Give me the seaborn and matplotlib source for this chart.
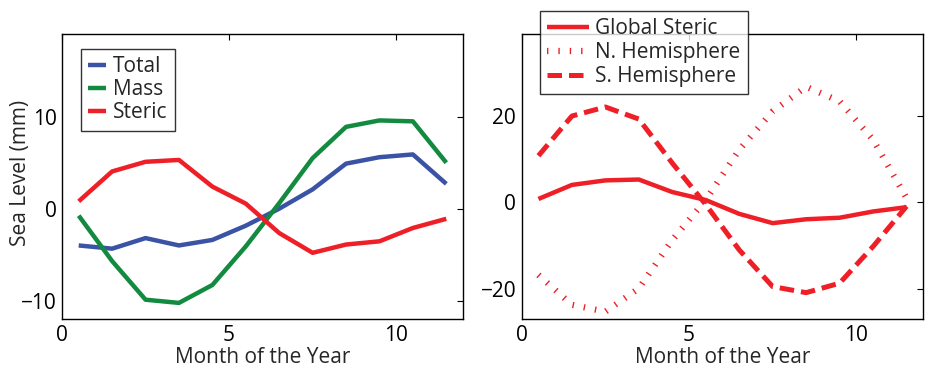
import matplotlib
matplotlib.use("Agg")
import matplotlib.pyplot as plt
import seaborn as sns
import pandas as pd
import numpy as np

sns.set_style("white")
plt.rcParams['font.family'] = ['Open Sans', 'DejaVu Sans']

months = [0.5, 1.5, 2.5, 3.5, 4.5, 5.5, 6.5, 7.5, 8.5, 9.5, 10.5, 11.5]
total = [-4.0, -4.35, -3.2, -4.0, -3.4, -1.85, 0.0, 2.1, 4.9, 5.6, 5.9, 2.7]
mass = [-0.76, -5.7, -9.9, -10.25, -8.3, -4.1, 0.6, 5.5, 8.9, 9.6, 9.5, 5.0]
steric = [0.8, 4.05, 5.1, 5.3, 2.4, 0.55, -2.65, -4.8, -3.9, -3.55, -2.1, -1.1]
n_hemi = [-16.8, -23.7, -25.3, -19.9, -8.7, 0.6, 12.2, 21.1, 26.8, 23.4, 14.5, 1.0]
s_hemi = [10.8, 20.0, 22.1, 19.3, 9.1, -0.5, -11.0, -19.5, -20.9, -18.7, -10.2, -0.9]

BLUE = "#3A53A4"
GREEN = "#128A3F"
RED = "#EE1F26"
FS = 15

fig = plt.figure(figsize=(9.29, 3.69), dpi=100)
ax1 = fig.add_axes([62/929, 50/369, 401/929, 285/369])
ax2 = fig.add_axes([521.7/929, 50/369, 401.6/929, 285/369])

df_left = pd.DataFrame({"Month": months * 3,
                        "Value": total + mass + steric,
                        "Series": ["Total"] * 12 + ["Mass"] * 12 + ["Steric"] * 12})
sns.lineplot(data=df_left, x="Month", y="Value", hue="Series",
             palette={"Total": BLUE, "Mass": GREEN, "Steric": RED},
             linewidth=3.2, ax=ax1, legend=False)
for ln, lab in zip(ax1.lines, ["Total", "Mass", "Steric"]):
    ln.set_label(lab)
    ln.set_solid_capstyle("butt")

df_right = pd.DataFrame({"Month": months * 3,
                         "Value": steric + n_hemi + s_hemi,
                         "Series": ["Global Steric"] * 12 + ["N. Hemisphere"] * 12 + ["S. Hemisphere"] * 12})
sns.lineplot(data=df_right[df_right.Series == "Global Steric"], x="Month", y="Value",
             color=RED, linewidth=3.2, ax=ax2, label="Global Steric", legend=False)
sns.lineplot(data=df_right[df_right.Series == "N. Hemisphere"], x="Month", y="Value",
             color=RED, linewidth=4.5, ax=ax2, label="N. Hemisphere", legend=False)
sns.lineplot(data=df_right[df_right.Series == "S. Hemisphere"], x="Month", y="Value",
             color=RED, linewidth=3.6, ax=ax2, label="S. Hemisphere", legend=False)
ax2.lines[0].set_solid_capstyle("butt")
ax2.lines[1].set_linestyle((0, (0.22, 1.6)))
ax2.lines[1].set_dash_capstyle("butt")
ax2.lines[2].set_linestyle((0, (2.9, 1.4)))
ax2.lines[2].set_dash_capstyle("butt")

for ax in (ax1, ax2):
    ax.set_xlim(0, 12)
    ax.set_xticks([0, 5, 10])
    ax.set_xlabel("Month of the Year", fontsize=FS, labelpad=1)
    ax.tick_params(direction="in", length=4, width=0.8, top=True, right=True,
                   labelsize=FS, colors="black", pad=4)
    for s in ax.spines.values():
        s.set_color("black")
        s.set_linewidth(1.0)
        s.set_visible(True)
    ax.grid(False)

ax1.set_ylim(-12, 19)
ax1.set_yticks([-10, 0, 10])
ax1.set_ylabel("Sea Level (mm)", fontsize=FS)
ax1.yaxis.set_label_coords(-0.078, 0.512)

ax2.set_ylim(-27, 39)
ax2.set_yticks([-20, 0, 20])
ax2.set_ylabel("")

leg1 = ax1.legend(loc="upper left", bbox_to_anchor=(0.047, 0.948), fontsize=FS,
                  handlelength=0.85, handletextpad=0.35, labelspacing=0.1,
                  borderpad=0.35, borderaxespad=0, frameon=True, fancybox=False)
leg1.get_frame().set_edgecolor("black")
leg1.get_frame().set_linewidth(1.0)

leg2 = ax2.legend(loc="upper left", bbox_to_anchor=(0.045, 1.082), fontsize=FS,
                  handlelength=2.0, handletextpad=0.3, labelspacing=0.15,
                  borderpad=0.35, borderaxespad=0, frameon=True, fancybox=False)
leg2.get_frame().set_edgecolor("black")
leg2.get_frame().set_linewidth(1.0)
leg2.set_zorder(10)

fig.savefig("out.png", dpi=100, facecolor="white")
